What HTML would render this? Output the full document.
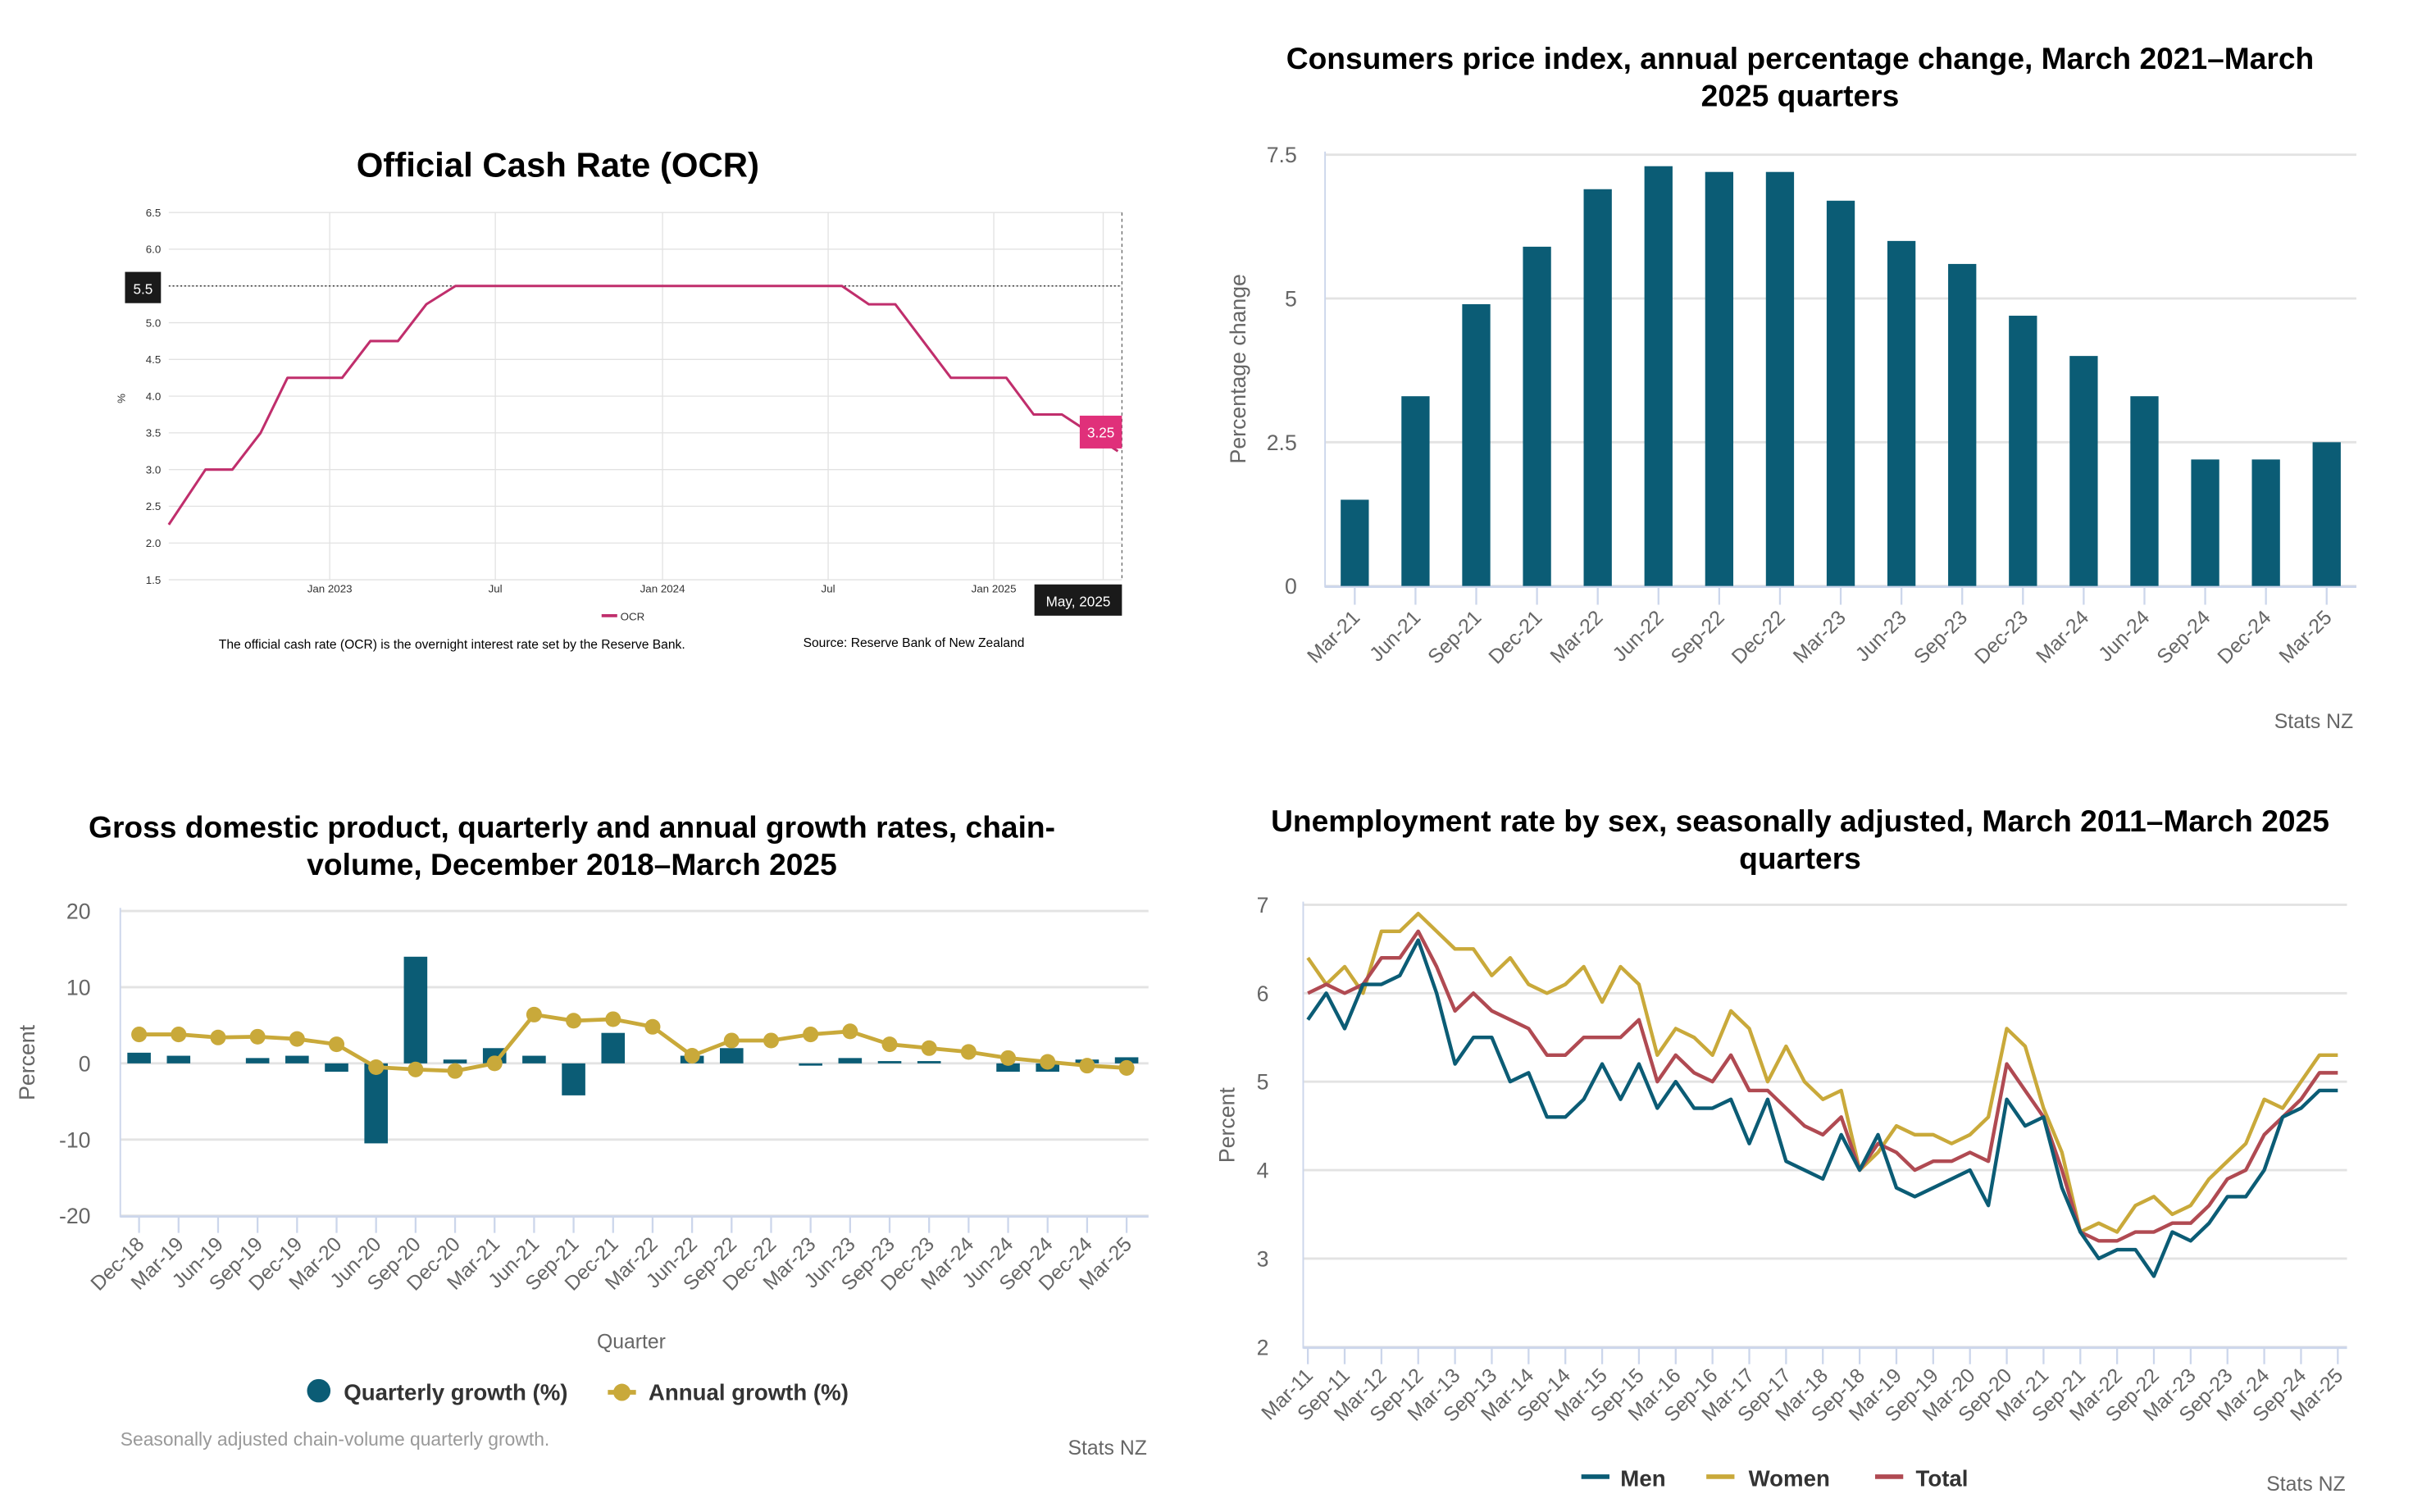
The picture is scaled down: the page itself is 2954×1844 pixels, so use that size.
<!DOCTYPE html>
<html><head><meta charset="utf-8"><style>
html,body{margin:0;padding:0;background:#fff;width:2954px;height:1844px;overflow:hidden}
svg{display:block}
text{font-family:"Liberation Sans",Arial,sans-serif}
</style></head><body>
<svg id="s" width="2954" height="1844" viewBox="0 0 1550 967.6" preserveAspectRatio="none" xmlns="http://www.w3.org/2000/svg"></svg>
<script>
const S=document.getElementById('s');let h='';
const T=(x,y,t,o)=>{o=o||{};h+=`<text x="${x}" y="${y}" font-size="${o.fs||12}" fill="${o.c||'#000'}" text-anchor="${o.a||'start'}" font-weight="${o.w||'normal'}"${o.r!=null?` transform="rotate(${o.r} ${x} ${y})"`:''}>${t}</text>`};
const L=(x1,y1,x2,y2,c,w,d)=>{h+=`<line x1="${x1}" y1="${y1}" x2="${x2}" y2="${y2}" stroke="${c}" stroke-width="${w||1}"${d?` stroke-dasharray="${d}"`:''}/>`};
const R=(x,y,w,hh,c)=>{h+=`<rect x="${x}" y="${y}" width="${w}" height="${hh}" fill="${c}"/>`};
const P=(pts,c,w)=>{h+=`<polyline points="${pts.map(p=>p.join(',')).join(' ')}" fill="none" stroke="${c}" stroke-width="${w}" stroke-linejoin="round"/>`};
const TEAL='#0b5c75',GOLD='#c9a93a',RED='#b04a52',GR='#666';

// ---- OCR ----
T(357,113,'Official Cash Rate (OCR)',{fs:22,w:'bold',a:'middle'});
const oy=v=>136+(6.5-v)*47;
for(let v=1.5;v<=6.51;v+=0.5){L(108,oy(v),718,oy(v),'#e2e2e2',0.7);T(103,oy(v)+2.5,v.toFixed(1),{fs:7,a:'end',c:'#333'});}
[[211,'Jan 2023'],[317,'Jul'],[424,'Jan 2024'],[530,'Jul'],[636,'Jan 2025'],[706,'May']].forEach(([x,t])=>{L(x,136,x,371,'#e2e2e2',0.7);T(x,379,t,{fs:7,a:'middle',c:'#333'});});
L(718,136,718,371,'#555',0.6,'2,2');
L(108,oy(5.5),718,oy(5.5),'#333',0.8,'1,1.5');
T(80,255,'%',{fs:7,r:-90,a:'middle',c:'#333'});
P([[108,oy(2.25)],[131.5,oy(3)],[148.7,oy(3)],[166.8,oy(3.5)],[184,oy(4.25)],[219,oy(4.25)],[237,oy(4.75)],[254.7,oy(4.75)],[272.8,oy(5.25)],[291.5,oy(5.5)],[538.8,oy(5.5)],[556,oy(5.25)],[573,oy(5.25)],[608.5,oy(4.25)],[644,oy(4.25)],[661.5,oy(3.75)],[679.6,oy(3.75)],[715.4,oy(3.25)]],'#c02e6c',1.6);
R(80,174,23,20,'#1a1a1a');T(91.5,188,'5.5',{fs:9,a:'middle',c:'#fff'});
R(691,266,27,21,'#e0307a');T(704.5,280,'3.25',{fs:9,a:'middle',c:'#fff'});
R(662,374,56,20,'#1a1a1a');T(690,388,'May, 2025',{fs:9,a:'middle',c:'#fff'});
L(385,394,395,394,'#c02e6c',2);T(397,397,'OCR',{fs:7,c:'#333'});
T(140,415,'The official cash rate (OCR) is the overnight interest rate set by the Reserve Bank.',{fs:8.2});
T(514,414,'Source: Reserve Bank of New Zealand',{fs:8.2});

// ---- CPI ----
T(1152,44,'Consumers price index, annual percentage change, March 2021–March',{fs:19.5,w:'bold',a:'middle'});
T(1152,68,'2025 quarters',{fs:19.5,w:'bold',a:'middle'});
const cy=v=>375-v*36.8;
[[7.5,'7.5'],[5,'5'],[2.5,'2.5'],[0,'0']].forEach(([v,t])=>{L(848,cy(v),1508,cy(v),'#e3e3e3',1.5);T(830,cy(v)+5,t,{fs:14,a:'end',c:GR});});
L(848,97,848,376,'#ccd6eb',1);L(848,375.5,1508,375.5,'#ccd6eb',1.5);
T(797,236,'Percentage change',{fs:14,r:-90,a:'middle',c:GR});
const cv=[1.5,3.3,4.9,5.9,6.9,7.3,7.2,7.2,6.7,6.0,5.6,4.7,4.0,3.3,2.2,2.2,2.5];
const cl=['Mar-21','Jun-21','Sep-21','Dec-21','Mar-22','Jun-22','Sep-22','Dec-22','Mar-23','Jun-23','Sep-23','Dec-23','Mar-24','Jun-24','Sep-24','Dec-24','Mar-25'];
cv.forEach((v,i)=>{const x=867+i*38.875;R(x-9,cy(v),18,375-cy(v),TEAL);L(x,376,x,387,'#ccd6eb',1.2);T(x+4,396,cl[i],{fs:13,a:'end',c:GR,r:-45});});
T(1506,466,'Stats NZ',{fs:13,a:'end',c:GR});

// ---- GDP ----
T(366,536,'Gross domestic product, quarterly and annual growth rates, chain-',{fs:19.5,w:'bold',a:'middle'});
T(366,560,'volume, December 2018–March 2025',{fs:19.5,w:'bold',a:'middle'});
const gy=v=>680.5-v*4.875;
[20,10,0,-10,-20].forEach(v=>{L(77,gy(v),735,gy(v),'#e3e3e3',1.5);T(58,gy(v)+5,String(v),{fs:14,a:'end',c:GR});});
L(77,581,77,779,'#ccd6eb',1);L(77,778.5,735,778.5,'#ccd6eb',1.5);
T(22,680,'Percent',{fs:14,r:-90,a:'middle',c:GR});
const gq=[1.4,1.0,0,0.7,1.0,-1.1,-10.5,14.0,0.5,2.0,1.0,-4.2,4.0,0,1.0,2.0,0,-0.3,0.7,0.3,0.3,0,-1.1,-1.1,0.5,0.8];
const ga=[3.8,3.8,3.4,3.5,3.2,2.5,-0.5,-0.8,-1.0,0,6.4,5.6,5.8,4.8,1.0,3.0,3.0,3.8,4.2,2.5,2.0,1.5,0.7,0.2,-0.3,-0.6];
const gl=['Dec-18','Mar-19','Jun-19','Sep-19','Dec-19','Mar-20','Jun-20','Sep-20','Dec-20','Mar-21','Jun-21','Sep-21','Dec-21','Mar-22','Jun-22','Sep-22','Dec-22','Mar-23','Jun-23','Sep-23','Dec-23','Mar-24','Jun-24','Sep-24','Dec-24','Mar-25'];
const gx=i=>89+i*25.28;
gq.forEach((v,i)=>{const x=gx(i);if(v)R(x-7.5,Math.min(gy(v),gy(0)),15,Math.abs(gy(v)-gy(0)),TEAL);L(x,779,x,789,'#ccd6eb',1.2);T(x+4,797,gl[i],{fs:13,a:'end',c:GR,r:-45});});
P(ga.map((v,i)=>[gx(i),gy(v)]),GOLD,2.5);
ga.forEach((v,i)=>{h+=`<circle cx="${gx(i)}" cy="${gy(v)}" r="5" fill="${GOLD}"/>`;});
T(404,863,'Quarter',{fs:13,a:'middle',c:GR});
h+=`<circle cx="204" cy="890" r="7.5" fill="${TEAL}"/>`;T(220,896,'Quarterly growth (%)',{fs:14.5,w:'bold',c:'#333'});
L(389,891,407,891,GOLD,3);h+=`<circle cx="398" cy="891" r="5.5" fill="${GOLD}"/>`;T(415,896,'Annual growth (%)',{fs:14.5,w:'bold',c:'#333'});
T(77,925,'Seasonally adjusted chain-volume quarterly growth.',{fs:12,c:'#999'});
T(734,931,'Stats NZ',{fs:13,a:'end',c:GR});

// ---- Unemployment ----
T(1152,532,'Unemployment rate by sex, seasonally adjusted, March 2011–March 2025',{fs:19.5,w:'bold',a:'middle'});
T(1152,556,'quarters',{fs:19.5,w:'bold',a:'middle'});
const uy=v=>862-(v-2)*56.6;
[7,6,5,4,3,2].forEach(v=>{L(834,uy(v),1502,uy(v),'#e3e3e3',1.5);T(812,uy(v)+5,String(v),{fs:14,a:'end',c:GR});});
L(834,577,834,863,'#ccd6eb',1);L(834,862.5,1502,862.5,'#ccd6eb',1.5);
T(790,720,'Percent',{fs:14,r:-90,a:'middle',c:GR});
const ux=i=>837+i*11.77;
const men=[5.7,6.0,5.6,6.1,6.1,6.2,6.6,6.0,5.2,5.5,5.5,5.0,5.1,4.6,4.6,4.8,5.2,4.8,5.2,4.7,5.0,4.7,4.7,4.8,4.3,4.8,4.1,4.0,3.9,4.4,4.0,4.4,3.8,3.7,3.8,3.9,4.0,3.6,4.8,4.5,4.6,3.8,3.3,3.0,3.1,3.1,2.8,3.3,3.2,3.4,3.7,3.7,4.0,4.6,4.7,4.9,4.9];
const wom=[6.4,6.1,6.3,6.0,6.7,6.7,6.9,6.7,6.5,6.5,6.2,6.4,6.1,6.0,6.1,6.3,5.9,6.3,6.1,5.3,5.6,5.5,5.3,5.8,5.6,5.0,5.4,5.0,4.8,4.9,4.0,4.2,4.5,4.4,4.4,4.3,4.4,4.6,5.6,5.4,4.7,4.2,3.3,3.4,3.3,3.6,3.7,3.5,3.6,3.9,4.1,4.3,4.8,4.7,5.0,5.3,5.3];
const tot=[6.0,6.1,6.0,6.1,6.4,6.4,6.7,6.3,5.8,6.0,5.8,5.7,5.6,5.3,5.3,5.5,5.5,5.5,5.7,5.0,5.3,5.1,5.0,5.3,4.9,4.9,4.7,4.5,4.4,4.6,4.0,4.3,4.2,4.0,4.1,4.1,4.2,4.1,5.2,4.9,4.6,4.0,3.3,3.2,3.2,3.3,3.3,3.4,3.4,3.6,3.9,4.0,4.4,4.6,4.8,5.1,5.1];
for(let i=0;i<57;i+=2){const x=ux(i);const yr=11+Math.floor(i/4);const lab=(i%4==0?'Mar-':'Sep-')+yr;L(x,863,x,873,'#ccd6eb',1.2);T(x+4,881,lab,{fs:13,a:'end',c:GR,r:-45});}
P(wom.map((v,i)=>[ux(i),uy(v)]),GOLD,2.3);
P(tot.map((v,i)=>[ux(i),uy(v)]),RED,2.3);
P(men.map((v,i)=>[ux(i),uy(v)]),TEAL,2.3);
L(1012,945,1030,945,TEAL,3);T(1037,951,'Men',{fs:14.5,w:'bold',c:'#333'});
L(1092,945,1110,945,GOLD,3);T(1119,951,'Women',{fs:14.5,w:'bold',c:'#333'});
L(1200,945,1218,945,RED,3);T(1226,951,'Total',{fs:14.5,w:'bold',c:'#333'});
T(1501,954,'Stats NZ',{fs:13,a:'end',c:GR});
S.innerHTML=h;
</script>
</body></html>
